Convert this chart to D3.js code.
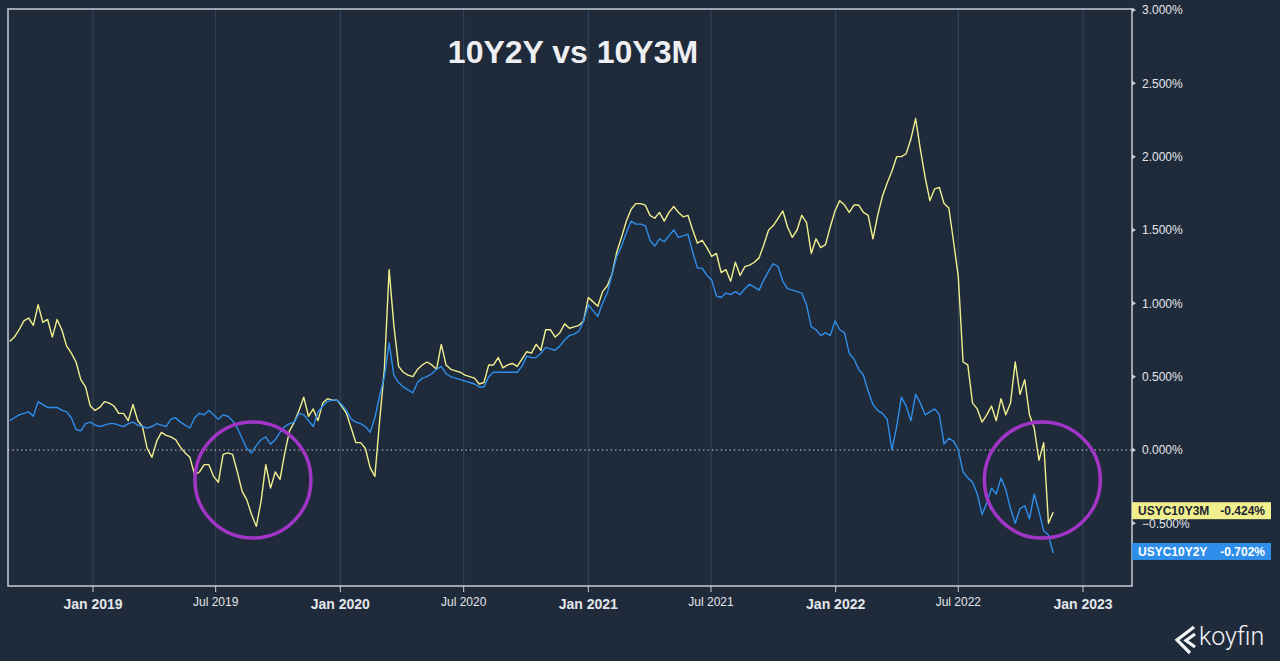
<!DOCTYPE html>
<html>
<head>
<meta charset="utf-8">
<script src="https://cdn.jsdelivr.net/npm/d3@7"></script>
<style>
  html, body { margin: 0; padding: 0; background: #1f2b3b; }
  svg { display: block; }
</style>
</head>
<body>
<svg id="chart" width="1280" height="661"></svg>
<script>
// ---------- DATA ----------
const title = "10Y2Y vs 10Y3M";
const startDate = new Date(2018, 7, 31);   // first weekly observation
const stepDays = 7;

// USYC10Y3M (10Y - 3M spread, %), weekly
const usyc10y3m = [
0.74,0.77,0.82,0.88,0.90,0.85,0.99,0.87,0.89,0.77,
0.89,0.82,0.71,0.66,0.60,0.48,0.43,0.30,0.27,0.29,
0.33,0.32,0.30,0.25,0.25,0.20,0.31,0.20,0.16,0.01,
-0.05,0.06,0.12,0.10,0.09,0.07,0.02,-0.02,-0.05,-0.17,
-0.15,-0.10,-0.10,-0.18,-0.22,-0.03,-0.02,-0.03,-0.15,-0.28,
-0.34,-0.44,-0.52,-0.35,-0.10,-0.26,-0.15,-0.20,-0.02,0.13,
0.19,0.27,0.36,0.23,0.28,0.20,0.32,0.35,0.34,0.34,
0.30,0.25,0.15,0.05,0.05,0.01,-0.12,-0.18,0.20,0.55,
1.23,0.85,0.57,0.53,0.51,0.50,0.55,0.58,0.60,0.58,
0.55,0.72,0.58,0.55,0.54,0.53,0.51,0.50,0.49,0.45,
0.46,0.58,0.58,0.63,0.56,0.58,0.59,0.57,0.62,0.67,
0.66,0.72,0.68,0.82,0.82,0.77,0.80,0.86,0.83,0.84,
0.85,0.88,1.04,1.01,0.98,1.08,1.12,1.20,1.35,1.45,
1.56,1.64,1.68,1.68,1.67,1.60,1.58,1.62,1.56,1.62,
1.66,1.62,1.59,1.60,1.50,1.41,1.43,1.38,1.32,1.34,
1.21,1.23,1.15,1.28,1.19,1.25,1.26,1.28,1.31,1.40,
1.50,1.53,1.58,1.63,1.52,1.45,1.50,1.60,1.55,1.34,
1.44,1.38,1.40,1.52,1.63,1.70,1.67,1.62,1.67,1.67,
1.62,1.60,1.44,1.60,1.73,1.82,1.90,2.00,2.00,2.02,
2.12,2.26,2.05,1.86,1.70,1.78,1.79,1.68,1.65,1.42,
1.18,0.60,0.58,0.32,0.28,0.19,0.24,0.30,0.20,0.35,
0.24,0.32,0.60,0.38,0.48,0.24,0.15,-0.07,0.05,-0.50,
-0.424
];

// USYC10Y2Y (10Y - 2Y spread, %), weekly
const usyc10y2y = [
0.20,0.22,0.24,0.25,0.26,0.23,0.33,0.31,0.29,0.29,
0.29,0.27,0.26,0.22,0.14,0.13,0.18,0.19,0.17,0.16,
0.17,0.18,0.18,0.17,0.16,0.18,0.19,0.17,0.16,0.15,
0.16,0.18,0.17,0.16,0.21,0.22,0.19,0.17,0.15,0.22,
0.25,0.24,0.27,0.24,0.21,0.24,0.23,0.20,0.15,0.08,
0.01,-0.02,0.03,0.07,0.09,0.04,0.07,0.12,0.16,0.18,
0.19,0.25,0.24,0.20,0.16,0.26,0.30,0.33,0.34,0.34,
0.31,0.27,0.21,0.19,0.18,0.16,0.12,0.22,0.37,0.50,
0.73,0.51,0.46,0.43,0.41,0.39,0.46,0.49,0.50,0.52,
0.55,0.57,0.52,0.50,0.49,0.48,0.47,0.46,0.45,0.43,
0.43,0.50,0.53,0.53,0.53,0.53,0.53,0.53,0.57,0.64,
0.63,0.63,0.66,0.70,0.69,0.68,0.71,0.75,0.78,0.79,
0.81,0.88,0.99,0.95,0.91,1.00,1.07,1.20,1.32,1.39,
1.48,1.56,1.54,1.54,1.53,1.43,1.39,1.44,1.42,1.46,
1.50,1.45,1.46,1.47,1.35,1.24,1.24,1.19,1.16,1.05,
1.04,1.07,1.06,1.08,1.06,1.10,1.13,1.11,1.09,1.16,
1.22,1.27,1.25,1.15,1.10,1.09,1.08,1.07,0.99,0.84,
0.82,0.78,0.80,0.78,0.88,0.82,0.80,0.66,0.62,0.55,
0.51,0.40,0.31,0.27,0.25,0.21,0.00,0.16,0.36,0.30,
0.20,0.38,0.32,0.24,0.26,0.28,0.24,0.04,0.08,0.06,
0.00,-0.15,-0.19,-0.22,-0.30,-0.44,-0.36,-0.26,-0.30,-0.19,
-0.27,-0.40,-0.50,-0.40,-0.38,-0.47,-0.30,-0.42,-0.55,-0.58,
-0.702
];

const yTicks = [-0.5, 0, 0.5, 1.0, 1.5, 2.0, 2.5, 3.0];
const seriesNames = ["USYC10Y3M", "USYC10Y2Y"];
const lastValues = ["-0.424%", "-0.702%"];
// highlighted inversion periods (centre date, centre value)
const highlightDates = [new Date(2019, 7, 25), new Date(2022, 10, 2)];
const highlightValues = [-0.205, -0.205];

// ---------- LAYOUT ----------
const W = 1280, H = 661;
const plot = { left: 8, right: 1132, top: 9, bottom: 586 };
const colors = { bg: "#1f2b3b", y3m: "#f1ef8d", y2y: "#2e8eea", grid: "#36465a",
                 frame: "#c9cdd3", text: "#e4e6ea", circle: "#a035c6" };

const svg = d3.select("#chart");
svg.append("rect").attr("width", W).attr("height", H).attr("fill", colors.bg);

const x = d3.scaleTime()
  .domain([new Date(2019, 0, 1), new Date(2023, 0, 1)])
  .range([93, 1083]);
const y = d3.scaleLinear().domain([0, 3]).range([450, 10]);

const dates = usyc10y3m.map((_, i) => d3.timeDay.offset(startDate, i * stepDays));

// vertical grid lines + x ticks
const xTicks = d3.timeMonth.every(6).range(x.invert(plot.left), x.invert(plot.right));
svg.append("g").selectAll("line").data(xTicks).join("line")
  .attr("x1", d => x(d)).attr("x2", d => x(d))
  .attr("y1", plot.top).attr("y2", plot.bottom)
  .attr("stroke", colors.grid).attr("stroke-width", 1);

svg.append("g").selectAll("line").data(xTicks).join("line")
  .attr("x1", d => x(d)).attr("x2", d => x(d))
  .attr("y1", plot.bottom).attr("y2", plot.bottom + 6)
  .attr("stroke", colors.frame).attr("stroke-width", 1);

svg.append("g").selectAll("text").data(xTicks).join("text")
  .attr("x", d => x(d))
  .attr("y", d => d.getMonth() === 0 ? 609 : 606)
  .attr("text-anchor", "middle")
  .attr("fill", colors.text)
  .attr("font-family", "'Liberation Sans', Arial, sans-serif")
  .attr("font-size", d => d.getMonth() === 0 ? 14 : 12)
  .attr("font-weight", d => d.getMonth() === 0 ? "bold" : "normal")
  .text(d => d3.timeFormat("%b %Y")(d));

// zero line (dotted)
svg.append("line")
  .attr("x1", plot.left).attr("x2", plot.right)
  .attr("y1", y(0)).attr("y2", y(0))
  .attr("stroke", "#e8e8e8").attr("stroke-width", 1.2)
  .attr("stroke-dasharray", "1.2,3.2");

// frame
svg.append("rect")
  .attr("x", plot.left).attr("y", plot.top)
  .attr("width", plot.right - plot.left).attr("height", plot.bottom - plot.top)
  .attr("fill", "none").attr("stroke", colors.frame).attr("stroke-width", 1.5);

// right y axis labels + small triangle ticks
const yAxis = svg.append("g");
yAxis.selectAll("path").data(yTicks).join("path")
  .attr("d", d => `M${plot.right},${y(d) - 2.5}L${plot.right + 4},${y(d)}L${plot.right},${y(d) + 2.5}Z`)
  .attr("fill", colors.frame);
yAxis.selectAll("text").data(yTicks).join("text")
  .attr("x", plot.right + 10).attr("y", d => y(d)).attr("dy", "0.35em")
  .attr("fill", colors.text)
  .attr("font-family", "'Liberation Sans', Arial, sans-serif")
  .attr("font-size", 12)
  .text(d => d3.format(".3f")(d) + "%");

// title
svg.append("text")
  .attr("x", 573).attr("y", 63).attr("text-anchor", "middle")
  .attr("fill", "#eeeff2")
  .attr("font-family", "'Liberation Sans', Arial, sans-serif")
  .attr("font-size", 32).attr("font-weight", "bold")
  .text(title);

// lines
const line = d3.line().x((d, i) => x(dates[i])).y(d => y(d));
svg.append("path").datum(usyc10y3m).attr("d", line)
  .attr("fill", "none").attr("stroke", colors.y3m).attr("stroke-width", 1.4)
  .attr("stroke-linejoin", "round");
svg.append("path").datum(usyc10y2y).attr("d", line)
  .attr("fill", "none").attr("stroke", colors.y2y).attr("stroke-width", 1.4)
  .attr("stroke-linejoin", "round");

// highlight circles
svg.append("g").selectAll("circle").data(highlightDates).join("circle")
  .attr("cx", d => x(d)).attr("cy", (d, i) => y(highlightValues[i]))
  .attr("r", 58)
  .attr("fill", "none").attr("stroke", colors.circle).attr("stroke-width", 3.5);

// last value labels
const lastSeries = [usyc10y3m, usyc10y2y];
const tagFill = [colors.y3m, colors.y2y];
const tagText = ["#1b2431", "#ffffff"];
const tags = svg.append("g").selectAll("g").data(seriesNames).join("g")
  .attr("transform", (d, i) => `translate(${plot.right},${y(lastSeries[i][lastSeries[i].length - 1]) - 1})`);
tags.append("rect").attr("x", 0).attr("y", -9).attr("width", 139).attr("height", 17)
  .attr("fill", (d, i) => tagFill[i]);
tags.append("text").attr("x", 6).attr("y", -0.5).attr("dy", "0.35em")
  .attr("fill", (d, i) => tagText[i])
  .attr("font-family", "'Liberation Sans', Arial, sans-serif")
  .attr("font-size", 12).attr("font-weight", "bold")
  .text(d => d);
tags.append("text").attr("x", 133).attr("y", -0.5).attr("dy", "0.35em")
  .attr("text-anchor", "end")
  .attr("fill", (d, i) => tagText[i])
  .attr("font-family", "'Liberation Sans', Arial, sans-serif")
  .attr("font-size", 12).attr("font-weight", "bold")
  .text((d, i) => lastValues[i]);

// koyfin logo
const logo = svg.append("g");
logo.append("path").attr("d", "M1194,627 L1177,640 L1190,653")
  .attr("fill", "none").attr("stroke", "#f2f3f5").attr("stroke-width", 3.2);
logo.append("path").attr("d", "M1195,634 L1186,640.5 L1195,647")
  .attr("fill", "none").attr("stroke", "#f2f3f5").attr("stroke-width", 3.2);
logo.append("text").attr("x", 1199).attr("y", 645)
  .attr("fill", "#f2f3f5")
  .attr("font-family", "Roboto, 'Open Sans', sans-serif")
  .attr("font-size", 25).attr("font-weight", 300)
  .text("koyfin");
</script>
</body>
</html>
